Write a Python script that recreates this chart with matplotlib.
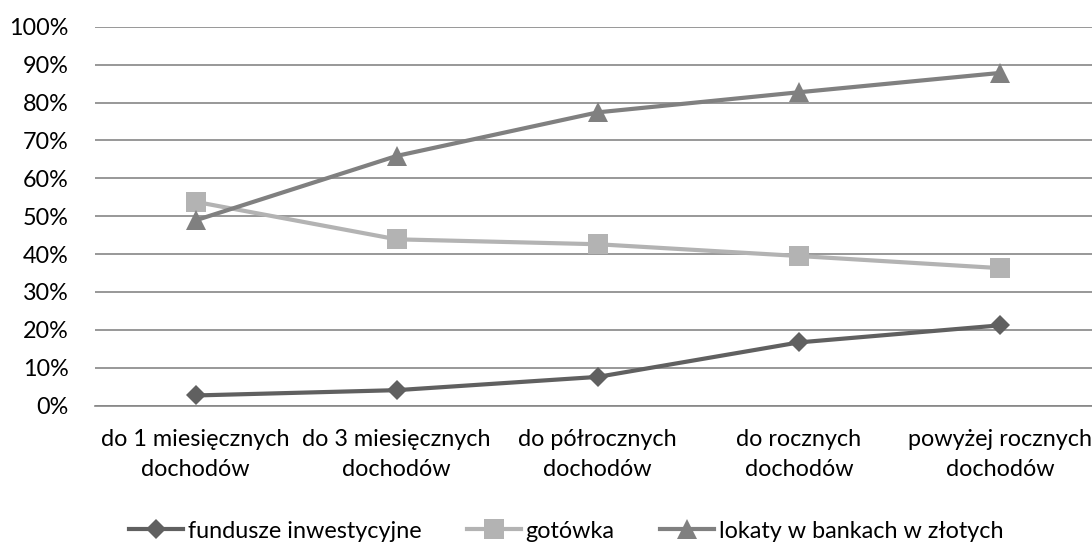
import matplotlib
matplotlib.use("Agg")
import matplotlib.pyplot as plt
from matplotlib.ticker import PercentFormatter

plt.rcParams['font.family'] = ['Lato', 'DejaVu Sans']

categories = [
    "do 1 miesięcznych\ndochodów",
    "do 3 miesięcznych\ndochodów",
    "do półrocznych\ndochodów",
    "do rocznych\ndochodów",
    "powyżej rocznych\ndochodów",
]
fundusze = [2.7, 4.1, 7.6, 16.7, 21.2]
gotowka = [53.8, 43.9, 42.6, 39.5, 36.3]
lokaty = [48.9, 65.9, 77.4, 82.7, 87.8]
y_ticks = list(range(0, 101, 10))

FS = 16.8

fig = plt.figure(figsize=(10.92, 5.42), dpi=100)
ax = fig.add_axes([95 / 1092, 1 - 405.7 / 542, 1005.5 / 1092, 379 / 542])

x = list(range(len(categories)))
ax.plot(x, fundusze, color="#606060", lw=3, marker="D", ms=10.6, mew=0,
        label="fundusze inwestycyjne", zorder=3)
ax.plot(x, gotowka, color="#b3b3b3", lw=3, marker="s", ms=15, mew=0,
        label="gotówka", zorder=4)
ax.plot(x, lokaty, color="#808080", lw=3, marker="^", ms=15, mew=0,
        label="lokaty w bankach w złotych", zorder=5)

ax.set_xlim(-0.5, len(categories) - 0.5)
ax.set_ylim(0, 100)
ax.set_yticks(y_ticks)
ax.yaxis.set_major_formatter(PercentFormatter(decimals=0))
ax.set_xticks(x)
ax.set_xticklabels(categories, multialignment="center", linespacing=1.5)

ax.grid(axis="y", color="#868686", lw=1.2)
ax.set_axisbelow(True)
for side in ("top", "right", "left"):
    ax.spines[side].set_visible(False)
ax.spines["bottom"].set_color("#868686")
ax.spines["bottom"].set_linewidth(1.2)
ax.tick_params(axis="both", length=0, colors="black", labelsize=FS)
ax.tick_params(axis="y", pad=19)
ax.tick_params(axis="x", pad=17)

fig.legend(loc="center left", bbox_to_anchor=(129 / 1092, 1 - 531 / 542),
           ncol=3, frameon=False, fontsize=FS, handlelength=2.32,
           handletextpad=0.2, columnspacing=1.95, borderaxespad=0, borderpad=0)

fig.savefig("out.png", dpi=100)
